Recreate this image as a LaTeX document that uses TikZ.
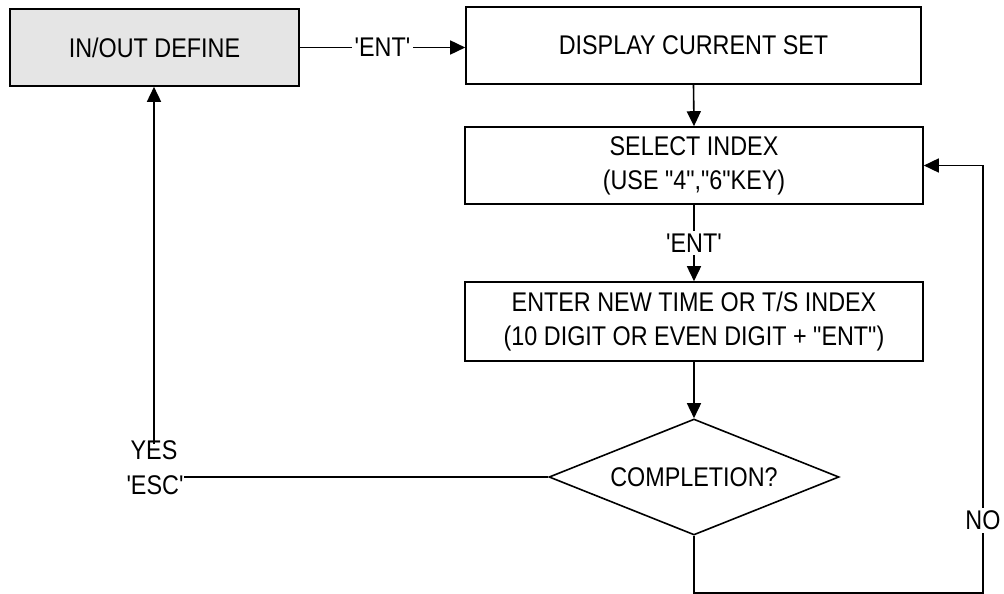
\documentclass[tikz,border=0pt]{standalone}
\usepackage{fontspec}
\newfontfamily\lab{Liberation Sans}[FakeStretch=0.865]
\usetikzlibrary{shapes.geometric,arrows.meta}
\definecolor{boxgray}{RGB}{229,229,229}
\begin{document}
\begin{tikzpicture}[x=1pt,y=-1pt,
  every node/.style={font=\lab\fontsize{27}{34}\selectfont},
  box/.style={draw, line width=1.6pt, inner sep=0pt, align=center},
  dec/.style={draw, line width=1.6pt, shape=diamond, aspect=2.5, inner sep=0pt,
              minimum width=290pt, minimum height=116pt},
  lbl/.style={fill=white, inner sep=3pt},
  txt/.style={inner sep=0pt},
  arr/.style={line width=1.6pt, -{Triangle[length=15pt,width=14pt]}},
  ln/.style={line width=1.6pt}]
\useasboundingbox (0,0) rectangle (1004,594);
\node[box, fill=boxgray, minimum width=289pt, minimum height=77pt] (inout) at (154.5,47.5) {IN/OUT DEFINE};
\node[box, minimum width=455pt, minimum height=77pt] (display) at (693.5,45.5) {DISPLAY CURRENT SET};
\node[box, minimum width=458pt, minimum height=77pt] (select) at (694,165.5) {SELECT INDEX\\(USE "4","6"KEY)};
\node[box, minimum width=458pt, minimum height=79pt] (enter) at (694,321.5) {ENTER NEW TIME OR T/S INDEX\\(10 DIGIT OR EVEN DIGIT + "ENT")};
\node[dec] (dia) at (694,477) {COMPLETION?};
\node[txt] (yes) at (154,450) {YES};
\node[txt] (esc) at (155,485) {'ESC'};
\coordinate (c1) at (694,593);
\coordinate (c2) at (983,593);
\draw[arr] (inout.east) -- node[lbl] {'ENT'} (inout.east -| display.west);
\draw[arr] (display.south) -- (select.north);
\draw[arr] (select.south) -- node[lbl] {'ENT'} (enter.north);
\draw[arr] (enter.south) -- (dia.north);
\draw[ln] (dia.west) -- (dia.west -| esc.east);
\draw[arr] ([yshift=-4pt]yes.north) -- (yes.north |- inout.south);
\draw[arr] (dia.south) -- (c1) -- (c2) -- node[lbl, pos=0.17] {NO} (c2 |- select.east) -- (select.east);
\end{tikzpicture}
\end{document}
